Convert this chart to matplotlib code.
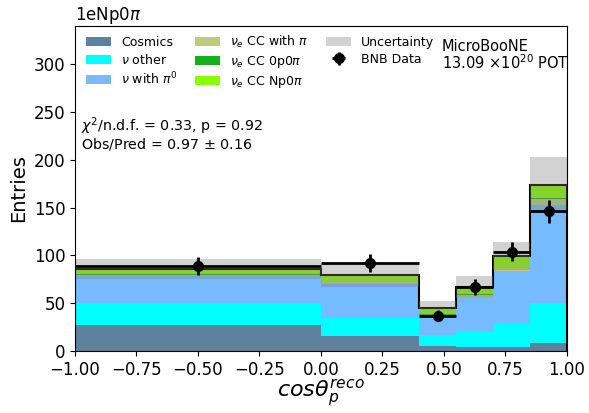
import numpy as np
import matplotlib
matplotlib.use("Agg")
import matplotlib.pyplot as plt

# binning in reco cos(theta_p)
bin_edges = [-1.0, 0.0, 0.4, 0.55, 0.7, 0.85, 1.0]

# stacked MC categories (entries per bin)
cosmics    = [27.2, 15.7, 5.7, 3.8, 4.5, 8.0]
nu_other   = [22.6, 19.1, 10.7, 16.4, 23.7, 41.8]
nu_pi0     = [28.6, 34.9, 20.5, 35.3, 55.8, 102.8]
nue_pi     = [1.6, 2.2, 1.3, 3.4, 3.5, 6.6]
nue_0p0pi  = [0.5, 0.5, 0.5, 0.7, 0.6, 1.0]
nue_np0pi  = [5.2, 7.0, 5.9, 7.6, 11.2, 14.0]

# total uncertainty on prediction
pred_err   = [10.5, 12.2, 7.6, 11.2, 14.9, 28.6]

# BNB data counts
data       = [89, 92, 37, 67, 104, 146]

labels = [r"Cosmics", r"$\nu$ other", r"$\nu$ with $\pi^0$",
          r"$\nu_e$ CC with $\pi$", r"$\nu_e$ CC 0p0$\pi$", r"$\nu_e$ CC Np0$\pi$"]
colors = ["xkcd:greyish blue", "xkcd:cyan", "xkcd:sky blue",
          "#bccb80", "xkcd:green", "xkcd:lime green"]

edges = np.array(bin_edges)
centers = 0.5 * (edges[1:] + edges[:-1])
widths = edges[1:] - edges[:-1]
comps = [cosmics, nu_other, nu_pi0, nue_pi, nue_0p0pi, nue_np0pi]
pred = np.sum(np.array(comps), axis=0)
err = np.array(pred_err)

fig = plt.figure(figsize=(5.89, 4.13), dpi=100)
ax = fig.add_axes([0.1273, 0.150, 0.8353, 0.787])

ax.hist([centers] * len(comps), bins=edges, weights=comps, stacked=True,
        color=colors, label=labels, histtype="stepfilled")
ax.stairs(pred, edges, color="black", lw=1.5)
ax.bar(centers, 2 * err, width=widths, bottom=pred - err, color="grey",
       alpha=0.35, lw=0, label="Uncertainty")
ax.errorbar(centers, data, xerr=widths / 2, yerr=np.sqrt(data), fmt="o",
            color="black", ms=7, elinewidth=2, capsize=0, label="BNB Data")

ax.set_xlim(-1, 1)
ax.set_ylim(0, 340)
ax.set_xticks(np.arange(-1, 1.01, 0.25))
ax.tick_params(labelsize=12)
ax.set_xlabel(r"$cos\theta_p^{reco}$", fontsize=16, labelpad=-1)
ax.set_ylabel("Entries", fontsize=14)
ax.set_title(r"1eNp0$\pi$", loc="left", fontsize=12, pad=4)

# legend in column order: stack categories bottom->top, then band and data
handles, labs = ax.get_legend_handles_labels()
order = [labs.index(l) for l in labels + ["Uncertainty", "BNB Data"]]
ax.legend([handles[i] for i in order], [labs[i] for i in order],
          loc="upper left", ncol=3, frameon=False, fontsize=9,
          bbox_to_anchor=(0.0, 1.01), columnspacing=1.4, labelspacing=0.3)
ax.text(0.745, 0.96, "MicroBooNE\n" + r"13.09 $\times 10^{20}$ POT",
        transform=ax.transAxes, fontsize=10.5, va="top", ha="left",
        linespacing=0.95)
ax.text(0.012, 0.725, r"$\chi^2$/n.d.f. = 0.33, p = 0.92" + "\nObs/Pred = 0.97 $\\pm$ 0.16",
        transform=ax.transAxes, fontsize=10.3, va="top", ha="left",
        linespacing=0.92)

fig.savefig("out.png", dpi=100)
